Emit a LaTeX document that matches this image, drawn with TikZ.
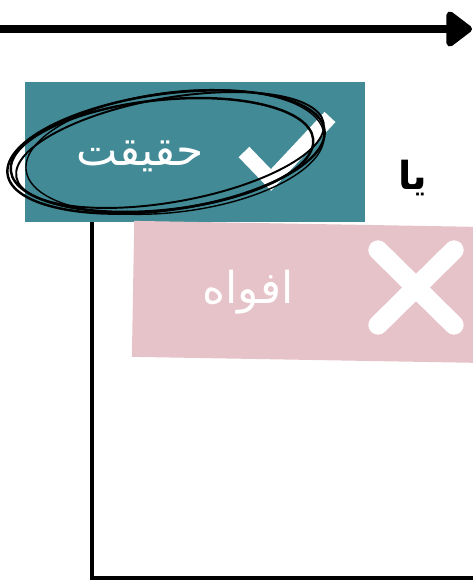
\documentclass[tikz,border=0pt]{standalone}
\usepackage{fontspec}
\usetikzlibrary{arrows.meta, positioning, calc}
\newfontfamily\arabicfont[Script=Arabic]{DejaVu Sans}
\TeXXeTstate=1
\definecolor{tealbox}{HTML}{428B96}
\definecolor{pinkbox}{HTML}{E6C3C8}

\begin{document}
\begin{tikzpicture}[
    x=0.02cm, y=-0.02cm,
    >=Stealth,
    factbox/.style={
        rectangle, fill=tealbox, inner sep=0pt,
        minimum width=6.8cm, minimum height=2.8cm
    },
    rumourbox/.style={factbox, fill=pinkbox, minimum width=7.2cm, minimum height=2.72cm},
    boxlbl/.style={font=\arabicfont\fontsize{25}{30}\selectfont, text=white, inner sep=0pt},
    orlbl/.style={font=\arabicfont\fontsize{22}{26}\selectfont\bfseries, inner sep=0pt},
    tickstroke/.style={draw=white, line width=8.5pt},
    scribble/.style={draw=black, line width=1.4pt},
    frame/.style={draw, line width=2.8pt},
]
\useasboundingbox (0,0) rectangle (473,585);

% ================================================================
%  TOP: ARROW
% ================================================================
\coordinate (arr_start) at (0, 29);
\coordinate (arr_tip)   at (472, 29);
\draw[-{Triangle[length=16pt, width=23pt, round]}, line width=5pt]
    (arr_start) -- (arr_tip);

% ================================================================
%  FACT BOX (teal, check mark)
% ================================================================
\node[factbox] (fact) at (195, 152) {};
\node[boxlbl] (fact_lbl) at (140, 156) {\beginR حقیقت\endR};

% check mark
\draw[tickstroke, line join=miter] (244, 152) -- (271, 180) -- (330, 117);

% scribbled ellipse round the label
\draw[scribble] (166, 152) ellipse [x radius=160, y radius=58, rotate=8];
\draw[scribble] (162, 155) ellipse [x radius=152, y radius=55, rotate=6];
\draw[scribble, line width=1.1pt] (170, 150) ellipse [x radius=156, y radius=52, rotate=10];
\draw[scribble, line width=0.8pt] (175, 152) ellipse [x radius=150, y radius=60, rotate=7];

% ================================================================
%  "OR"
% ================================================================
\node[orlbl] (or_lbl) at (413, 178) {\beginR یا\endR};

% ================================================================
%  RUMOUR BOX (pink, cross)
% ================================================================
\node[rumourbox, rotate=-1] (rumour) at (313, 292) {};
\node[boxlbl] (rumour_lbl) at (248, 292) {\beginR افواه\endR};

% cross
\draw[tickstroke, line width=11pt, line cap=round] (378, 250) -- (454, 325);
\draw[tickstroke, line width=11pt, line cap=round] (454, 250) -- (378, 325);

% ================================================================
%  FRAME LINE FROM FACT BOX
% ================================================================
\coordinate (corner)   at (92, 578);
\coordinate (line_end) at (473, 578);
\draw[frame] (fact.south -| corner) -- (corner) -- (line_end);

\end{tikzpicture}
\end{document}
